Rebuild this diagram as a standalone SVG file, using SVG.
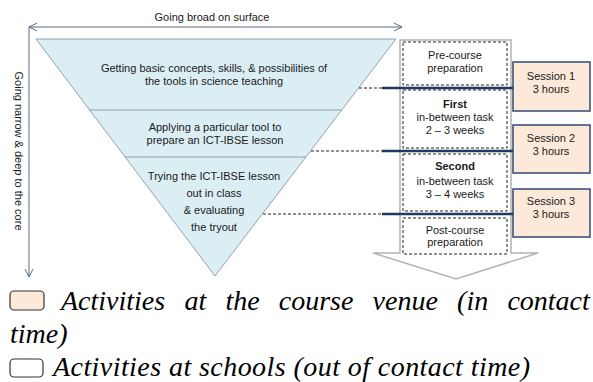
<svg xmlns="http://www.w3.org/2000/svg" width="593" height="382" viewBox="0 0 593 382">
<defs>
<style>
.t{font-family:"Liberation Sans",Arial,sans-serif;font-size:11px;fill:#1a1a1a;text-anchor:middle}
.b{font-weight:bold}
.dash{fill:none;stroke:#222;stroke-width:1;stroke-dasharray:3,2}
.sess{fill:#fde9d9;stroke:#2f4a6e;stroke-width:1.5}
.lg{font-family:"Liberation Serif","Times New Roman",serif;font-style:italic;font-size:28px;fill:#000}
.ax{fill:none;stroke:#5b6b80;stroke-width:1}
</style>
<marker id="chev" viewBox="0 0 10 10" refX="9" refY="5" markerWidth="10" markerHeight="10" markerUnits="userSpaceOnUse" orient="auto-start-reverse">
<path d="M1,1 L9,5 L1,9" fill="none" stroke="#5b6b80" stroke-width="1"/>
</marker>
</defs>
<rect width="593" height="382" fill="#fff"/>

<g id="axes">
<line class="ax" x1="29" y1="27" x2="402" y2="27" marker-start="url(#chev)" marker-end="url(#chev)"/>
<line class="ax" x1="29" y1="27" x2="29" y2="277" marker-end="url(#chev)"/>
<text class="t" x="212" y="21">Going broad on surface</text>
<text class="t" transform="translate(15,151) rotate(90)" x="0" y="0">Going narrow &amp; deep to the core</text>
</g>

<g id="triangle">
<polygon points="36,39 396,39 215,276" fill="#dbeef4" stroke="#7f8c99" stroke-width="0.8"/>
<line x1="89.6" y1="110" x2="341.8" y2="110" stroke="#7f8c99" stroke-width="0.8"/>
<line x1="125.1" y1="157" x2="305.9" y2="157" stroke="#7f8c99" stroke-width="0.8"/>
</g>
<g id="level1">
<text class="t" x="214" y="72">Getting basic concepts, skills,  &amp; possibilities  of</text>
<text class="t" x="214" y="85">the tools in science teaching</text>
</g>
<g id="level2">
<text class="t" x="215" y="131">Applying a particular tool to</text>
<text class="t" x="215" y="144">prepare an ICT-IBSE lesson</text>
</g>
<g id="level3">
<text class="t" x="214" y="180">Trying the ICT-IBSE lesson</text>
<text class="t" x="214" y="197">out in class</text>
<text class="t" x="214" y="214">&amp; evaluating</text>
<text class="t" x="214" y="231">the tryout</text>
</g>

<g id="timeline-arrow">
<polygon points="400,40 511,40 511,253 538,253 456,279 373,253 400,253" fill="#fff" stroke="#b3b3b3" stroke-width="1.5"/>
</g>
<g id="pre-course">
<rect class="dash" x="403" y="42" width="104" height="43"/>
<text class="t" x="455" y="59">Pre-course</text>
<text class="t" x="455" y="72">preparation</text>
</g>
<g id="first-task">
<rect class="dash" x="403" y="90" width="104" height="58"/>
<text class="t b" x="455" y="108">First</text>
<text class="t" x="455" y="121">in-between task</text>
<text class="t" x="455" y="134">2 – 3 weeks</text>
</g>
<g id="second-task">
<rect class="dash" x="403" y="154" width="104" height="57"/>
<text class="t b" x="455" y="170">Second</text>
<text class="t" x="455" y="185">in-between task</text>
<text class="t" x="455" y="198">3 – 4 weeks</text>
</g>
<g id="post-course">
<rect class="dash" x="403" y="218" width="104" height="36"/>
<text class="t" x="455" y="234">Post-course</text>
<text class="t" x="455" y="246">preparation</text>
</g>

<g id="session1">
<rect class="sess" x="513" y="62" width="77" height="49"/>
<text class="t" x="551" y="80">Session 1</text>
<text class="t" x="551" y="93">3 hours</text>
</g>
<g id="session2">
<rect class="sess" x="513" y="125" width="77" height="48"/>
<text class="t" x="551" y="142">Session 2</text>
<text class="t" x="551" y="155">3 hours</text>
</g>
<g id="session3">
<rect class="sess" x="513" y="189" width="77" height="48"/>
<text class="t" x="551" y="205">Session 3</text>
<text class="t" x="551" y="218">3 hours</text>
</g>

<g id="connectors">
<line class="dash" x1="359" y1="88" x2="382" y2="88"/>
<line x1="382" y1="88" x2="513" y2="88" stroke="#1f3a60" stroke-width="2.5"/>
<line class="dash" x1="311" y1="151" x2="382" y2="151"/>
<line x1="382" y1="151" x2="513" y2="151" stroke="#1f3a60" stroke-width="2.5"/>
<line class="dash" x1="263" y1="214" x2="382" y2="214"/>
<line x1="382" y1="214" x2="513" y2="214" stroke="#1f3a60" stroke-width="2.5"/>
</g>

<g id="legend">
<rect x="10" y="291" width="34" height="19" rx="4" fill="#fde9d9" stroke="#333" stroke-width="1.2"/>
<text class="lg" y="310"><tspan x="61">Activities</tspan><tspan x="184.4">at</tspan><tspan x="225.4">the</tspan><tspan x="278.8">course</tspan><tspan x="372.6">venue</tspan><tspan x="457.1">(in</tspan><tspan x="507.4">contact</tspan></text>
<text class="lg" x="10" y="343">time)</text>
<rect x="10" y="359" width="33" height="18" rx="4" fill="#fff" stroke="#333" stroke-width="1.2"/>
<text class="lg" x="53" y="376" textLength="477" lengthAdjust="spacing">Activities at schools (out of contact time)</text>
</g>
</svg>
